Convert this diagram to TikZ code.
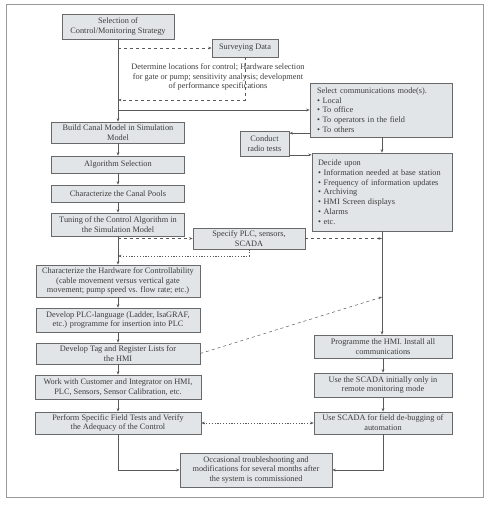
\documentclass[tikz,border=0pt]{standalone}
\usepackage{fontspec}
\setmainfont{Liberation Serif}
\usetikzlibrary{arrows.meta,shadows}
\definecolor{boxfill}{RGB}{226,229,231}
\definecolor{boxline}{RGB}{105,105,105}
\definecolor{inkgray}{RGB}{60,60,60}

\begin{document}
\begin{tikzpicture}[x=1pt, y=-1pt,
	>={Stealth[length=3.5pt, width=2.6pt]},
	font=\fontsize{8.3}{9.8}\selectfont,
	box/.style={draw=boxline, fill=boxfill, line width=0.6pt, inner sep=1pt, align=center, text=inkgray,
		drop shadow={shadow xshift=0.8pt, shadow yshift=-0.8pt, fill=black!55, opacity=1}},
	link/.style={draw=black!65, line width=0.5pt},
	dots/.style={dash pattern=on 1.2pt off 1.6pt}]
	\useasboundingbox (0,0) rectangle (490,507);
	\draw[black!40, line width=0.8pt] (6,4) rectangle (483,497);

	\node[box, minimum width=112pt, minimum height=25pt] (sel) at (118,26.5) {Selection of\\Control/Monitoring Strategy};
	\node[box, minimum width=66pt, minimum height=18pt] (survey) at (245,48) {Surveying Data};
	\node[align=center, text=inkgray] (note) at (218,77) {Determine locations for control; Hardware selection\\for gate or pump; sensitivity analysis; development\\of performance specifications};
	\node[box, minimum width=142pt, minimum height=54pt, text width=128pt, align=left] (comm) at (381,110)
		{Select communications mode(s).\\\textbullet\ Local\\\textbullet\ To office\\\textbullet\ To operators in the field\\\textbullet\ To others};
	\node[box, minimum width=49pt, minimum height=25pt] (radio) at (264.5,144) {Conduct\\radio tests};
	\node[box, minimum width=140pt, minimum height=78pt, text width=128pt, align=left] (decide) at (382,192)
		{Decide upon\\\textbullet\ Information needed at base station\\\textbullet\ Frequency of information updates\\\textbullet\ Archiving\\\textbullet\ HMI Screen displays\\\textbullet\ Alarms\\\textbullet\ etc.};

	\node[box, minimum width=133pt, minimum height=21pt] (build) at (118,132.5) {Build Canal Model in Simulation\\Model};
	\node[box, minimum width=133pt, minimum height=17pt] (algo) at (118,164.5) {Algorithm Selection};
	\node[box, minimum width=133pt, minimum height=17pt] (pools) at (118,193.5) {Characterize the Canal Pools};
	\node[box, minimum width=133pt, minimum height=23pt] (tuning) at (118,224.5) {Tuning of the Control Algorithm in\\the Simulation Model};
	\node[box, minimum width=112pt, minimum height=21pt] (specify) at (249,238.5) {Specify PLC, sensors,\\SCADA};

	\node[box, minimum width=164pt, minimum height=32pt] (hardware) at (118,281) {Characterize the Hardware for Controllability\\(cable movement versus vertical gate\\movement; pump speed vs. flow rate; etc.)};
	\node[box, minimum width=164pt, minimum height=24pt] (plclang) at (118,320) {Develop PLC-language (Ladder, IsaGRAF,\\etc.) programme for insertion into PLC};
	\node[box, minimum width=164pt, minimum height=21pt] (tag) at (118,353.5) {Develop Tag and Register Lists for\\the HMI};
	\node[box, minimum width=166pt, minimum height=24pt] (work) at (118,387) {Work with Customer and Integrator on HMI,\\PLC, Sensors, Sensor Calibration, etc.};
	\node[box, minimum width=166pt, minimum height=22pt] (perform) at (118,423) {Perform Specific Field Tests and Verify\\the Adequacy of the Control};

	\node[box, minimum width=138pt, minimum height=23pt] (hmi) at (383,346.5) {Programme the HMI. Install all\\communications};
	\node[box, minimum width=138pt, minimum height=24pt] (monitor) at (383,385) {Use the SCADA initially only in\\remote monitoring mode};
	\node[box, minimum width=138pt, minimum height=22pt] (debug) at (383,423) {Use SCADA for field de-bugging of\\automation};
	\node[box, minimum width=152pt, minimum height=34pt] (occas) at (256,470) {Occasional troubleshooting and\\modifications for several months after\\the system is commissioned};

	\coordinate (back) at (118,100);
	\coordinate (ret) at (118,256);
	\coordinate (tagin) at (382,297);
	\coordinate (r1) at ([yshift=-2pt]radio.north east);
	\coordinate (r2) at ([yshift=2pt]radio.south east);

	\draw[link, ->] (sel.south) -- (build.north);
	\draw[link, dashed, ->] (sel.south |- survey.west) -- (survey.west);
	\draw[link, dashed, ->] (survey.south) |- (back);
	\draw[link, ->] (sel.south |- comm.west) -- (comm.west);
	\draw[link, ->] (comm.west |- r1) -- (r1);
	\draw[link, ->] (r2) -- (decide.west |- r2);
	\draw[link, ->] (decide.north |- comm.south) -- (decide.north);

	\draw[link, ->] (build.south) -- (algo.north);
	\draw[link, ->] (algo.south) -- (pools.north);
	\draw[link, ->] (pools.south) -- (tuning.north);
	\draw[link, dashed, ->] (tuning.south |- specify.west) -- (specify.west);
	\draw[link, dashed, ->] (specify.east) -- (decide.south |- specify.east);
	\draw[link, dots, ->] (specify.south) |- (ret);
	\draw[link, ->] (tuning.south) -- (hardware.north);
	\draw[link, ->] (hardware.south) -- (plclang.north);
	\draw[link, ->] (plclang.south) -- (tag.north);
	\draw[link, ->] (tag.south) -- (work.north);
	\draw[link, ->] (work.south) -- (perform.north);

	\draw[link, ->] (decide.south) -- (decide.south |- hmi.north);
	\draw[link, dashed, ->] (tag.east) -- (tagin);
	\draw[link, ->] (hmi.south) -- (monitor.north);
	\draw[link, ->] (monitor.south) -- (debug.north);
	\draw[link, dots, <->] (perform.east) -- (debug.west);
	\draw[link, ->] (perform.south) |- (occas.west);
	\draw[link, ->] (debug.south) |- (occas.east);
\end{tikzpicture}
\end{document}
